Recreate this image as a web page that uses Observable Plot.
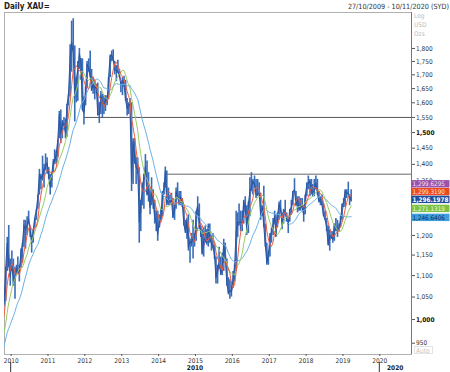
<!DOCTYPE html>
<html><head><meta charset="utf-8">
<script src="https://cdn.jsdelivr.net/npm/d3@7"></script>
<script src="https://cdn.jsdelivr.net/npm/@observablehq/plot@0.6"></script>
<style>
html,body{margin:0;padding:0;background:#fff;}
#wrap{width:450px;height:372px;overflow:hidden;}
</style></head><body><div id="wrap"></div>
<script>
// Semi-monthly closes (USD/oz), first half of Jan 2009 .. second half of Mar 2019
const closes = [
820,920,940,945,925,920,885,890,930,978,935,928,915,953,948,955,1000,998,1055,1040,1118,1180,1125,1097,
1130,1082,1095,1118,1105,1113,1155,1178,1228,1215,1228,1244,1210,1180,1215,1248,1268,1307,1370,1358,1368,1386,1395,1405,
1362,1333,1372,1410,1410,1432,1475,1560,1495,1536,1525,1500,1590,1628,1765,1825,1780,1620,1680,1720,1780,1745,1575,1565,
1640,1740,1725,1695,1645,1665,1650,1663,1560,1560,1625,1600,1590,1615,1600,1690,1770,1775,1755,1720,1715,1712,1695,1665,
1680,1665,1610,1580,1592,1595,1350,1470,1425,1390,1385,1235,1285,1320,1365,1395,1310,1325,1275,1322,1288,1250,1235,1202,
1240,1245,1318,1325,1380,1285,1300,1290,1295,1250,1275,1320,1305,1285,1305,1287,1230,1210,1240,1170,1185,1180,1195,1185,
1262,1280,1225,1212,1155,1185,1195,1182,1225,1190,1180,1172,1150,1095,1115,1133,1105,1115,1180,1142,1082,1060,1065,1062,
1090,1118,1210,1235,1235,1235,1235,1292,1272,1215,1285,1320,1335,1350,1340,1310,1315,1315,1255,1275,1225,1175,1130,1150,
1195,1210,1230,1250,1200,1250,1285,1268,1230,1268,1260,1242,1230,1268,1275,1320,1325,1280,1300,1270,1280,1275,1255,1305,
1340,1345,1350,1318,1318,1325,1345,1315,1290,1298,1280,1252,1242,1222,1175,1200,1195,1190,1230,1215,1212,1222,1240,1280,
1290,1322,1315,1315,1302,1296];
// Semi-monthly lows/highs, second half of Oct 2009 .. second half of Mar 2019
const lowsFrom = 19;
const lows = [
1030,1040,1110,1120,1075,
1110,1075,1045,1100,1105,1085,1120,1130,1170,1165,1200,1230,1195,1155,1180,1220,1240,1270,1310,1325,1350,1330,1380,1370,
1355,1310,1330,1375,1400,1400,1420,1480,1465,1480,1520,1480,1485,1590,1620,1710,1790,1535,1600,1605,1720,1680,1575,1525,
1590,1650,1710,1690,1640,1630,1610,1630,1555,1530,1560,1550,1560,1570,1590,1610,1690,1750,1750,1700,1675,1705,1690,1635,
1625,1655,1605,1555,1560,1590,1320,1340,1400,1340,1370,1180,1210,1280,1270,1360,1310,1290,1255,1280,1270,1230,1210,1185,
1220,1240,1250,1310,1330,1280,1280,1280,1285,1245,1240,1270,1300,1280,1280,1275,1225,1205,1190,1160,1130,1170,1140,1170,
1185,1250,1215,1195,1150,1145,1180,1175,1170,1180,1160,1165,1140,1080,1080,1115,1100,1100,1110,1140,1075,1055,1045,1050,
1070,1085,1110,1195,1225,1210,1210,1230,1260,1200,1205,1250,1320,1310,1330,1300,1305,1310,1240,1250,1220,1170,1125,1125,
1145,1180,1200,1230,1195,1220,1240,1260,1215,1230,1255,1235,1205,1235,1255,1280,1320,1280,1260,1265,1265,1275,1235,1255,
1305,1325,1305,1310,1305,1305,1325,1310,1290,1280,1280,1250,1240,1210,1175,1160,1190,1180,1185,1210,1195,1210,1220,1240,
1275,1275,1300,1310,1280,1290];
const highs = [
1065,1120,1195,1226,1140,
1160,1140,1120,1125,1145,1125,1165,1180,1240,1240,1250,1265,1215,1200,1215,1245,1270,1310,1385,1370,1425,1400,1432,1420,
1390,1370,1375,1415,1445,1440,1475,1570,1575,1540,1550,1545,1595,1630,1815,1910,1920,1810,1690,1750,1800,1760,1760,1620,
1660,1750,1760,1790,1720,1690,1680,1665,1670,1600,1640,1630,1625,1625,1625,1690,1775,1790,1795,1750,1735,1755,1720,1670,
1690,1695,1680,1615,1600,1615,1600,1480,1480,1420,1420,1390,1295,1345,1370,1430,1410,1375,1330,1360,1325,1295,1265,1265,
1255,1270,1320,1345,1392,1380,1330,1310,1315,1300,1280,1330,1345,1320,1320,1300,1275,1240,1245,1255,1190,1205,1240,1205,
1265,1305,1285,1225,1215,1220,1225,1215,1230,1230,1200,1205,1175,1145,1125,1170,1145,1155,1190,1180,1140,1095,1090,1085,
1110,1125,1265,1260,1285,1265,1265,1295,1305,1280,1290,1360,1375,1355,1365,1355,1355,1345,1315,1280,1335,1230,1180,1160,
1205,1220,1245,1265,1255,1260,1290,1295,1260,1270,1295,1260,1235,1270,1295,1320,1357,1320,1305,1305,1300,1300,1280,1310,
1345,1365,1355,1355,1340,1355,1365,1355,1320,1305,1310,1285,1265,1245,1225,1215,1210,1210,1230,1245,1240,1230,1250,1285,
1300,1325,1325,1347,1310,1325];

// Moving averages: windows in half-month periods (~20, 50, 100, 200 trading days)
const maWindows = [2, 5, 10, 20];
const maNames = ["MA20", "MA50", "MA100", "MA200"];
// Last values shown in the right-hand boxes
const lastLabels = ["MA20", "MA50", "Price", "MA100", "MA200"];
const lastValues = [1299.6295, 1299.3190, 1296.1978, 1271.1319, 1246.6406];
// Horizontal levels
const levelValues = [1550, 1370];
const levelStarts = ["2011-12-29", "2014-03-17"];
// Axis ticks (1,250 and 1,300 sit behind the value boxes)
const yTicks = [950,1050,1100,1150,1200,1350,1400,1450,1550,1600,1650,1700,1750,1800];
const yBoldTicks = [1000, 1500];
const xYears = [2010,2011,2012,2013,2014,2015,2016,2017,2018,2019,2020];
const decades = [2010, 2020];
const title = "Daily XAU=";
const rangeText = "27/10/2009 - 10/11/2020 (SYD)";
const xStart = new Date(Date.UTC(2009, 9, 27));
const xEnd = new Date(Date.UTC(2020, 10, 10));

const FONT = "'DejaVu Sans Condensed','DejaVu Sans',sans-serif";
const maColors = {MA20: "#a15db3", MA50: "#f0603f", MA100: "#9acd62", MA200: "#6ab2e6"};
const boxFill = {MA20: "#9a52aa", MA50: "#ee4a22", Price: "#1f4f9c", MA100: "#7dc143", MA200: "#3e9edc"};
const boxText = {MA20: "#f4e2f7", MA50: "#ffe6dc", Price: "#ffffff", MA100: "#f2ffe6", MA200: "#0f2c55"};

const rows = closes.map((c, i) => ({
  date: new Date(Date.UTC(2009, Math.floor(i / 2), i % 2 ? 23 : 8)),
  close: c
}));
const bars = lows.map((l, i) => ({date: rows[i + lowsFrom].date, low: l, high: highs[i]}));
const levels = levelValues.map((v, i) => ({value: v, start: new Date(levelStarts[i]), end: xEnd}));

const maMark = (name) => Plot.lineY(rows, Plot.windowY(
  {k: maWindows[maNames.indexOf(name)], anchor: "end", reduce: "mean"},
  {x: "date", y: "close", stroke: maColors[name], strokeWidth: 1, clip: true}));

const chart = Plot.plot({
  width: 450, height: 372,
  marginLeft: 4, marginRight: 39, marginTop: 12, marginBottom: 18,
  style: {fontFamily: FONT, fontSize: "6.5px", color: "#333", background: "#fff", overflow: "visible"},
  x: {type: "utc", domain: [xStart, xEnd], axis: null},
  y: {type: "log", domain: [927, 1946], axis: null},
  marks: [
    Plot.frame({stroke: "#b0b0b0"}),
    Plot.ruleY(levels.slice(0, 1), {y: "value", x1: "start", x2: "end", stroke: "#555", strokeWidth: 1}),
    Plot.ruleY(levels.slice(1), {y: "value", x1: "start", x2: "end", stroke: "#999", strokeWidth: 1.5}),
    maMark("MA20"),
    Plot.ruleX(bars, {x: "date", y1: "low", y2: "high", stroke: "#3a6cb8", strokeWidth: 1.6, clip: true}),
    Plot.lineY(rows, {x: "date", y: "close", stroke: "#2857a3", strokeWidth: 1.1, clip: true}),
    maMark("MA200"),
    maMark("MA100"),
    maMark("MA50"),
    Plot.ruleX([xEnd], {stroke: "#777"}),
    Plot.axisX({ticks: xYears.map(y => new Date(Date.UTC(y, 0, 1))), tickFormat: "%Y", tickSize: 2, tickPadding: 1.5, stroke: "#555", fill: "#333"}),
    Plot.axisY({anchor: "right", ticks: yTicks, tickFormat: ",", tickSize: 3, tickPadding: 1.5, stroke: "#555", fill: "#333"}),
    Plot.axisY({anchor: "right", ticks: yBoldTicks, tickFormat: ",", tickSize: 3, tickPadding: 1.5, stroke: "#555", fill: "#111", fontWeight: "bold"})
  ]
});
document.getElementById("wrap").appendChild(chart);

const svg = d3.select(chart);
const xs = chart.scale("x"), ys = chart.scale("y");
const plotRight = Math.max(...xs.range), plotBottom = Math.max(...ys.range), plotTop = Math.min(...ys.range);
const txt = (x, y, s, size, opts = {}) => svg.append("text").attr("x", x).attr("y", y)
  .attr("font-size", size).attr("text-anchor", opts.anchor || "start")
  .attr("font-weight", opts.weight || "normal").attr("fill", opts.fill || "#333").text(s);

// Title and range
txt(4, 8.5, title, "8px", {weight: "bold", fill: "#222"});
txt(449, 8.5, rangeText, "7.2px", {anchor: "end"});

// Log / USD / Ozs
["Log", "USD", "Ozs"].forEach((t, i) => txt(plotRight + 3, plotTop + 6 + i * 9, t, "6.5px", {fill: "#bdbdbd"}));
// Auto box
svg.append("rect").attr("x", plotRight + 3.5).attr("y", plotBottom - 7.5).attr("width", 18).attr("height", 7)
  .attr("fill", "#fff").attr("stroke", "#dcdcdc").attr("stroke-width", 0.8);
txt(plotRight + 5, plotBottom - 1.5, "Auto", "6.5px", {fill: "#c4c4c4"});

// Decade row
decades.forEach(dy => {
  const d0 = new Date(Date.UTC(dy, 0, 1));
  const d1 = new Date(Math.min(+new Date(Date.UTC(dy + 10, 0, 1)), +xEnd));
  const xa = xs.apply(d0), xb = xs.apply(d1);
  svg.append("line").attr("x1", xa).attr("x2", xa).attr("y1", plotBottom + 8).attr("y2", 372)
    .attr("stroke", "#333").attr("stroke-width", 1);
  txt((xa + xb) / 2, plotBottom + 15.5, String(dy), "6.5px", {anchor: "middle", weight: "bold", fill: "#222"});
});

// Last-value boxes with collision avoidance around the price box
const bh = 7.8;
const pos = lastValues.map(v => ys.apply(v));
const pi = lastLabels.indexOf("Price");
const centers = pos.slice();
for (let i = pi - 1; i >= 0; i--) centers[i] = Math.min(pos[i], centers[i + 1] - bh);
for (let i = pi + 1; i < pos.length; i++) centers[i] = Math.max(pos[i], centers[i - 1] + bh);
lastLabels.forEach((name, i) => {
  svg.append("rect").attr("x", plotRight + 0.5).attr("y", centers[i] - bh / 2 + 0.2).attr("width", 449.5 - plotRight - 0.5)
    .attr("height", bh - 0.4).attr("fill", boxFill[name]);
  txt(plotRight + 1.5, centers[i] + 2.3, d3.format(",.4f")(lastValues[i]), "6.3px",
    {weight: name === "Price" ? "bold" : "normal", fill: boxText[name]});
});
</script>
</body></html>
